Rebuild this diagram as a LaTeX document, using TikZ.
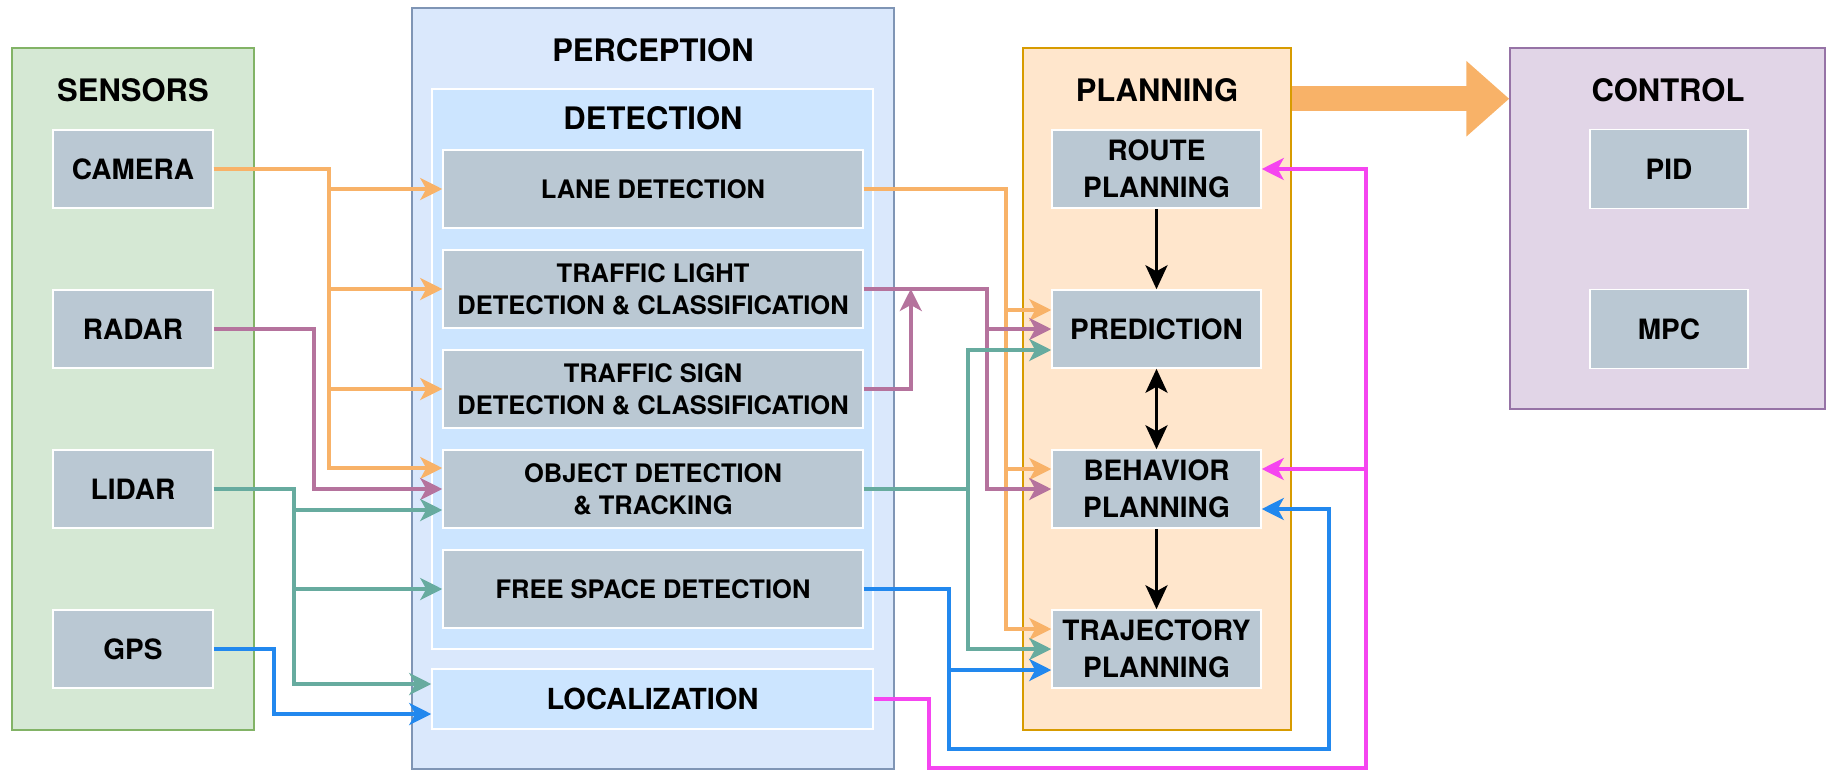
\documentclass[tikz,border=0pt]{standalone}
\usepackage{fontspec}
\setmainfont{TeX Gyre Heros}
\usetikzlibrary{arrows.meta}
\definecolor{sensfill}{HTML}{D5E8D4}
\definecolor{sensbrd}{HTML}{82B366}
\definecolor{percfill}{HTML}{DAE8FC}
\definecolor{percbrd}{HTML}{7F95B5}
\definecolor{detfill}{HTML}{CCE5FF}
\definecolor{planfill}{HTML}{FFE6CC}
\definecolor{planbrd}{HTML}{D79B00}
\definecolor{ctrlfill}{HTML}{E1D5E7}
\definecolor{ctrlbrd}{HTML}{9673A6}
\definecolor{blkfill}{HTML}{BAC8D3}
\definecolor{orng}{HTML}{F8B268}
\definecolor{purp}{HTML}{B5739D}
\definecolor{teal}{HTML}{67AB9F}
\definecolor{blu}{HTML}{2288EE}
\definecolor{mag}{HTML}{F545F0}
\begin{document}
\begin{tikzpicture}[x=1pt,y=-1pt,
    grp/.style={draw=#1,line width=1.5pt,inner sep=0pt},
    blk/.style={fill=blkfill,draw=white,line width=1.5pt,inner sep=0pt,align=center,
        font=\fontsize{28}{37}\selectfont\bfseries},
    sens/.style={blk,minimum width=160pt,minimum height=78pt},
    sub/.style={blk,minimum width=420pt,minimum height=78pt,font=\fontsize{25.5}{32}\selectfont\bfseries},
    plan/.style={blk,minimum width=209pt,minimum height=78pt},
    ttl/.style={font=\fontsize{31}{36}\selectfont\bfseries},
    lnk/.style={line width=3.5pt,-{Stealth[length=22pt,width=22pt,inset=6pt]}},
    blkarr/.style={line width=3.2pt,-{Stealth[length=24pt,width=22pt,inset=6pt]}}]
    \useasboundingbox (0,0) rectangle (1828,771);

    % groups
    \node[grp=sensbrd,fill=sensfill,minimum width=242pt,minimum height=682pt] (sensors) at (133,389) {};
    \node[grp=percbrd,fill=percfill,minimum width=482pt,minimum height=761pt] (perception) at (653,388.5) {};
    \node[fill=detfill,draw=white,line width=1.5pt,minimum width=441pt,minimum height=560pt] (detection) at (652.5,369) {};
    \node[grp=planbrd,fill=planfill,minimum width=268pt,minimum height=682pt] (planning) at (1157,389) {};
    \node[grp=ctrlbrd,fill=ctrlfill,minimum width=315pt,minimum height=361pt] (control) at (1667.5,228.5) {};

    \node[ttl] (senstitle) at (133,90) {SENSORS};
    \node[ttl] (perctitle) at (653,50) {PERCEPTION};
    \node[ttl] (dettitle) at (653,118) {DETECTION};
    \node[ttl] (plantitle) at (1157,90) {PLANNING};
    \node[ttl] (ctrltitle) at (1668,90) {CONTROL};

    % blocks
    \node[sens] (camera) at (133,169) {CAMERA};
    \node[sens] (radar) at (133,329) {RADAR};
    \node[sens] (lidar) at (133,489) {LIDAR};
    \node[sens] (gps) at (133,649) {GPS};

    \node[sub] (lane) at (653,189) {LANE DETECTION};
    \node[sub] (light) at (653,289) {TRAFFIC LIGHT\\DETECTION \& CLASSIFICATION};
    \node[sub] (sign) at (653,389) {TRAFFIC SIGN\\DETECTION \& CLASSIFICATION};
    \node[sub] (object) at (653,489) {OBJECT DETECTION\\\& TRACKING};
    \node[sub] (free) at (653,589) {FREE SPACE DETECTION};
    \node[fill=detfill,draw=white,line width=1.5pt,inner sep=0pt,minimum width=441pt,minimum height=60pt,
        font=\fontsize{29}{36}\selectfont\bfseries] (loc) at (652.5,699) {LOCALIZATION};

    \node[plan] (route) at (1156.5,169) {ROUTE\\PLANNING};
    \node[plan] (prediction) at (1156.5,329) {PREDICTION};
    \node[plan] (behavior) at (1156.5,489) {BEHAVIOR\\PLANNING};
    \node[plan] (trajectory) at (1156.5,649) {TRAJECTORY\\PLANNING};

    \node[blk,minimum width=158pt,minimum height=79pt] (pid) at (1669,169) {PID};
    \node[blk,minimum width=158pt,minimum height=79pt] (mpc) at (1669,329) {MPC};

    % sensors to perception
    \draw[lnk,orng] (camera.east) -- ++(115,0) |- (lane.west);
    \draw[lnk,orng] (camera.east) -- ++(115,0) |- (light.west);
    \draw[lnk,orng] (camera.east) -- ++(115,0) |- (sign.west);
    \draw[lnk,orng] (camera.east) -- ++(115,0) |- ([yshift=21pt]object.west);
    \draw[lnk,purp] (radar.east) -- ++(100,0) |- (object.west);
    \draw[lnk,teal] (lidar.east) -- ++(80,0) |- ([yshift=-21pt]object.west);
    \draw[lnk,teal] (lidar.east) -- ++(80,0) |- (free.west);
    \draw[lnk,teal] (lidar.east) -- ++(80,0) |- ([yshift=15pt]loc.west);
    \draw[lnk,blu] (gps.east) -- ++(60,0) |- ([yshift=-15pt]loc.west);

    % perception to planning
    \draw[lnk,orng] (lane.east) -- ++(142,0) |- ([yshift=19pt]prediction.west);
    \draw[lnk,orng] (lane.east) -- ++(142,0) |- ([yshift=20pt]behavior.west);
    \draw[lnk,orng] (lane.east) -- ++(142,0) |- ([yshift=20pt]trajectory.west);
    \draw[lnk,purp] (light.east) -- ++(123,0) |- (prediction.west);
    \draw[lnk,purp] (light.east) -- ++(123,0) |- (behavior.west);
    \draw[lnk,purp] (sign.east) -| ([xshift=47pt]light.east);
    \draw[lnk,teal] (object.east) -- ++(104,0) |- ([yshift=-21pt]prediction.west);
    \draw[lnk,teal] (object.east) -- ++(104,0) |- (trajectory.west);
    \draw[lnk,blu] (free.east) -- ++(85,0) |- ([yshift=-21pt]trajectory.west);
    \draw[lnk,blu] (free.east) -- ++(85,0) -- ++(0,160) -| ([xshift=67pt,yshift=-20pt]behavior.east) -- ([yshift=-20pt]behavior.east);
    \draw[lnk,mag] (loc.east) -- ++(55,0) -- ++(0,69) -| ([xshift=104pt]route.east) -- (route.east);
    \draw[lnk,mag] ([xshift=104pt]route.east) |- ([yshift=20pt]behavior.east);

    % inside planning
    \draw[blkarr] (route) -- (prediction);
    \draw[blkarr,{Stealth[length=24pt,width=22pt,inset=6pt]}-{Stealth[length=24pt,width=22pt,inset=6pt]}] (prediction) -- (behavior);
    \draw[blkarr] (behavior) -- (trajectory);

    \draw[line width=25pt,orng,-{Triangle[length=43pt,width=73pt]}] ([yshift=-51.5pt]planning.north east) -- ([yshift=-51.5pt]control.north west);
\end{tikzpicture}
\end{document}
